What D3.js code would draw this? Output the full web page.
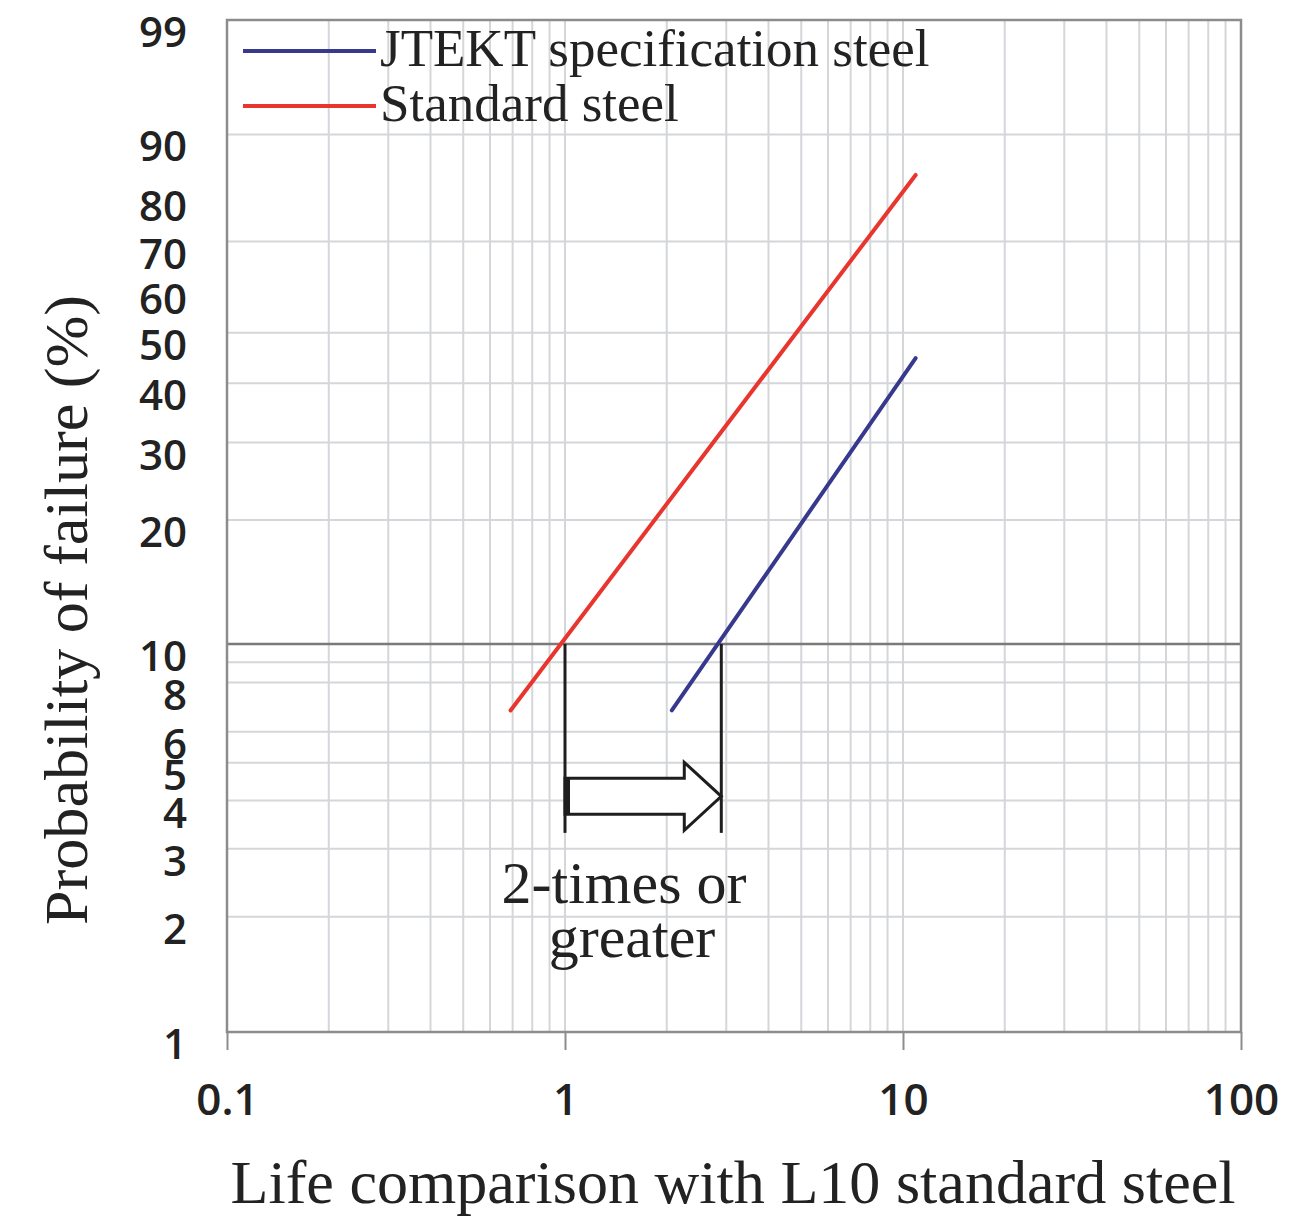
<!DOCTYPE html>
<html>
<head>
<meta charset="utf-8">
<script src="https://cdn.jsdelivr.net/npm/d3@7"></script>
<style>
  body { margin: 0; background: #fff; }
</style>
</head>
<body>
<script>
// Weibull probability plot data
const seriesNames = ["JTEKT specification steel", "Standard steel"];
const seriesColors = ["#37398c", "#e8362f"];
// life ratio (x) and probability of failure in % (y), line endpoints
const jtektLife = [2.07, 10.9];
const jtektFailure = [6.8, 44.8];
const standardLife = [0.69, 10.9];
const standardFailure = [6.8, 83.5];

// L10 lives used for the "2-times" annotation
const l10Standard = 1.0;
const l10Jtekt = 2.9;

const xTickValues = [0.1, 1, 10, 100];
const xTickLabels = ["0.1", "1", "10", "100"];
const yTickValues = [99, 90, 80, 70, 60, 50, 40, 30, 20, 10, 8, 6, 5, 4, 3, 2, 1];
const yGridValues = [90, 70, 50, 40, 30, 20, 10, 9, 8, 6, 5, 4, 3, 2];

document.addEventListener("DOMContentLoaded", function () {
    const width = 1307;
    const height = 1221;
    const plot = { left: 227, right: 1241, top: 20, bottom: 1032 };

    // Weibull transform of a failure percentage
    const weib = p => Math.log(-Math.log(1 - p / 100));

    const x = d3.scaleLog().domain([0.1, 100]).range([plot.left, plot.right]);
    const yLin = d3.scaleLinear().domain([weib(1), weib(99)]).range([plot.bottom, plot.top]);
    const y = p => yLin(weib(p));

    const svg = d3.select("body").append("svg")
        .attr("width", width)
        .attr("height", height);

    // Vertical grid: every 1..9 in each decade
    const xGrid = [];
    for (let e = -1; e < 2; e++) {
        for (let m = 1; m < 10; m++) xGrid.push(m * Math.pow(10, e));
    }
    svg.append("g")
        .selectAll("line")
        .data(xGrid.filter(v => v > 0.1))
        .join("line")
        .attr("x1", d => x(d)).attr("x2", d => x(d))
        .attr("y1", plot.top).attr("y2", plot.bottom)
        .attr("stroke", "#d4d6da")
        .attr("stroke-width", 2);

    // Horizontal grid
    svg.append("g")
        .selectAll("line")
        .data(yGridValues)
        .join("line")
        .attr("x1", plot.left).attr("x2", plot.right)
        .attr("y1", d => y(d)).attr("y2", d => y(d))
        .attr("stroke", d => d === 10 ? "#7a7a7a" : "#d4d6da")
        .attr("stroke-width", d => d === 10 ? 2.5 : 2);

    // Plot frame
    svg.append("rect")
        .attr("x", plot.left).attr("y", plot.top)
        .attr("width", plot.right - plot.left)
        .attr("height", plot.bottom - plot.top)
        .attr("fill", "none")
        .attr("stroke", "#8c8c8c")
        .attr("stroke-width", 2.5);

    // X axis ticks and labels
    const xAxis = d3.axisBottom(x)
        .tickValues(xTickValues)
        .tickFormat((d, i) => xTickLabels[i])
        .tickSize(18)
        .tickPadding(28);
    const gx = svg.append("g")
        .attr("transform", `translate(0,${plot.bottom})`)
        .call(xAxis);
    gx.select(".domain").remove();
    gx.selectAll(".tick line").attr("stroke", "#8c8c8c").attr("stroke-width", 2);
    gx.selectAll(".tick text")
        .attr("fill", "#222")
        .attr("dy", 0)
        .attr("y", 1115 - plot.bottom)
        .style("font", "600 44px 'Open Sans', sans-serif");

    // Y tick labels (hanging from their grid positions)
    svg.append("g")
        .selectAll("text")
        .data(yTickValues)
        .join("text")
        .attr("x", 187)
        .attr("y", d => y(d) + 27)
        .attr("text-anchor", "end")
        .attr("fill", "#222")
        .style("font", "600 42px 'Open Sans', sans-serif")
        .text(d => d);

    // Series lines
    const line = d3.line().x(d => x(d[0])).y(d => y(d[1]));
    const series = [
        d3.zip(jtektLife, jtektFailure),
        d3.zip(standardLife, standardFailure)
    ];
    svg.append("g")
        .selectAll("path")
        .data(series)
        .join("path")
        .attr("d", line)
        .attr("fill", "none")
        .attr("stroke", (d, i) => seriesColors[i])
        .attr("stroke-width", 4)
        .attr("stroke-linecap", "round");

    // Annotation: L10 markers and block arrow
    const ann = svg.append("g").attr("stroke", "#1e1e1e").attr("stroke-width", 3);
    const barBottom = y(3.3);
    [l10Standard, l10Jtekt].forEach(v => {
        ann.append("line")
            .attr("x1", x(v)).attr("x2", x(v))
            .attr("y1", y(10)).attr("y2", barBottom);
    });
    const ax0 = x(l10Standard), ax1 = x(l10Jtekt), ay = y(4.1);
    const shaft = 18, head = 34, headLen = 37;
    ann.append("path")
        .attr("d", `M${ax0},${ay - shaft} H${ax1 - headLen} V${ay - head} L${ax1},${ay} L${ax1 - headLen},${ay + head} V${ay + shaft} H${ax0} Z`)
        .attr("fill", "#fff")
        .attr("stroke-linejoin", "miter");
    ann.append("line")
        .attr("x1", ax0 + 2.5).attr("x2", ax0 + 2.5)
        .attr("y1", ay - shaft).attr("y2", ay + shaft)
        .attr("stroke-width", 5);

    const serif = "'Liberation Serif', 'Times New Roman', serif";
    svg.append("text")
        .attr("x", 624).attr("y", 903)
        .attr("text-anchor", "middle")
        .attr("fill", "#222")
        .style("font", `60px ${serif}`)
        .text("2-times or");
    svg.append("text")
        .attr("x", 632).attr("y", 957)
        .attr("text-anchor", "middle")
        .attr("fill", "#222")
        .style("font", `60px ${serif}`)
        .text("greater");

    // Legend
    const legend = svg.append("g");
    seriesNames.forEach((name, i) => {
        const ly = 51 + i * 55;
        legend.append("line")
            .attr("x1", 243).attr("x2", 376)
            .attr("y1", ly).attr("y2", ly)
            .attr("stroke", seriesColors[i])
            .attr("stroke-width", 4);
        legend.append("text")
            .attr("x", 380).attr("y", ly + 15)
            .attr("fill", "#222")
            .style("font", `53px ${serif}`)
            .text(name);
    });

    // Axis titles
    svg.append("text")
        .attr("x", 733).attr("y", 1203)
        .attr("text-anchor", "middle")
        .attr("fill", "#222")
        .style("font", `62px ${serif}`)
        .attr("textLength", 1005)
        .attr("lengthAdjust", "spacingAndGlyphs")
        .text("Life comparison with L10 standard steel");

    svg.append("text")
        .attr("transform", "translate(87,610) rotate(-90)")
        .attr("text-anchor", "middle")
        .attr("fill", "#222")
        .style("font", `62px ${serif}`)
        .attr("textLength", 630)
        .attr("lengthAdjust", "spacingAndGlyphs")
        .text("Probability of failure (%)");
});
</script>
</body>
</html>
